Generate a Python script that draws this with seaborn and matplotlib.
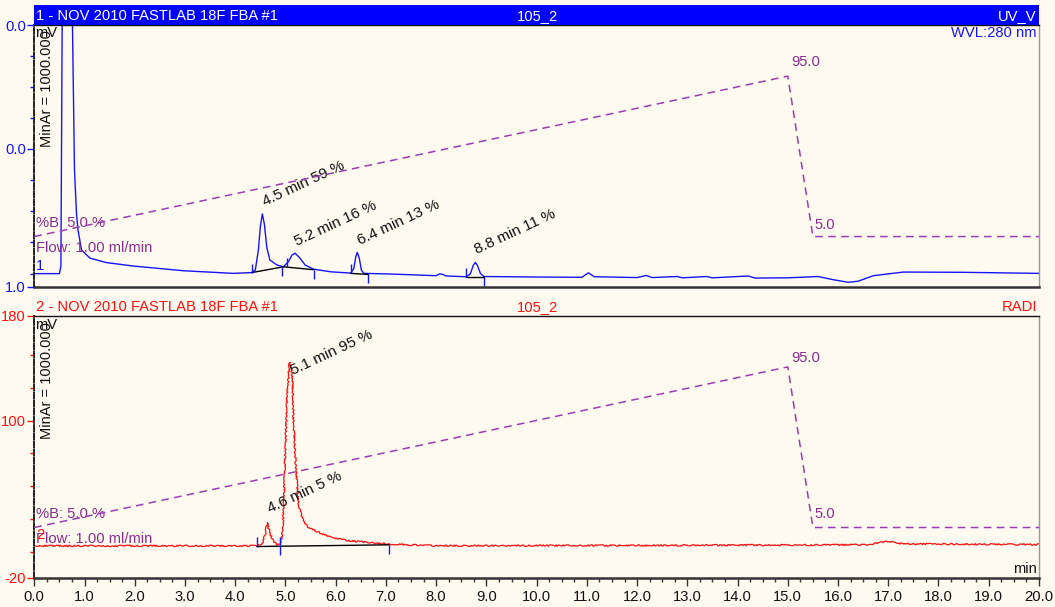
import matplotlib
matplotlib.use("Agg")
import pandas as pd
import matplotlib.pyplot as plt
from matplotlib.ticker import FixedLocator
import seaborn as sns

# UV channel (top): time [min] vs signal in display units (0 = bottom edge, 100 = top edge)
uv_time = [0.0, 0.50, 0.53, 0.56, 0.60, 0.72, 0.76, 0.80, 0.84, 0.87, 0.94, 1.11, 1.44,
           1.97, 2.97, 3.96, 4.33, 4.40, 4.46, 4.50, 4.54, 4.58, 4.63, 4.69, 4.83, 4.96,
           5.06, 5.13, 5.19, 5.29, 5.39, 5.56, 5.90, 6.30, 6.36, 6.40, 6.43, 6.47, 6.51,
           6.56, 7.00, 7.60, 8.00, 8.07, 8.13, 8.20, 8.60, 8.68, 8.74, 8.78, 8.82, 8.88,
           8.95, 9.50, 10.0, 10.9, 11.03, 11.15, 12.0, 12.18, 12.3, 12.8, 12.9, 13.38,
           13.5, 14.21, 14.35, 15.0, 15.6, 15.9, 16.2, 16.4, 16.7, 17.3, 18.5, 20.0]
uv_signal = [5.1, 5.1, 8.0, 120, 140, 140, 100, 45, 28, 21.8, 14.1, 11.0, 9.3,
             8.0, 6.2, 5.2, 5.5, 6.5, 14.0, 23.0, 27.9, 24.0, 15.0, 10.3, 8.4, 7.7,
             9.7, 12.2, 12.9, 11.0, 8.4, 6.8, 5.8, 5.3, 7.0, 11.5, 13.2, 11.0, 6.5,
             5.2, 5.0, 4.6, 4.3, 5.0, 4.8, 4.2, 3.9, 5.0, 8.3, 9.4, 8.3, 5.2,
             4.0, 3.9, 3.8, 3.7, 5.4, 3.9, 3.6, 4.4, 3.6, 4.0, 3.5, 4.0,
             3.5, 4.2, 3.4, 3.5, 4.0, 2.8, 1.8, 2.2, 4.3, 5.7, 5.6, 5.2]

# radio channel (bottom): time [min] vs mV
radi_time = [0.0, 4.40, 4.53, 4.60, 4.64, 4.68, 4.75, 4.83, 4.90, 4.95, 4.99, 5.03,
             5.08, 5.11, 5.14, 5.16, 5.21, 5.26, 5.33, 5.43, 5.63, 5.89, 6.22, 6.69,
             7.09, 7.50, 8.00, 12.0, 16.6, 16.98, 17.3, 20.0]
radi_mv = [4.5, 4.5, 5.3, 14.2, 22.3, 15.4, 8.6, 5.3, 6.0, 16.7, 67.5, 118,
           144.5, 142, 131, 100.5, 62.4, 37.0, 25.6, 19.3, 15.4, 11.2, 8.6, 7.0,
           5.8, 5.2, 4.6, 4.8, 5.3, 8.0, 6.0, 5.5]

# gradient program (%B)
grad_time = [0.0, 15.0, 15.5, 20.0]
grad_b = [5.0, 95.0, 5.0, 5.0]

# integration baselines and delimiters
uv_base_time = [[4.33, 4.96, 5.56], [6.30, 6.65], [8.59, 8.96]]
uv_base_val = [[5.5, 7.7, 6.6], [5.2, 4.8], [3.8, 3.8]]
uv_start_ticks = [(4.33, 5.5), (5.03, 7.8), (6.30, 5.2), (8.59, 3.8)]
uv_end_ticks = [(4.93, 7.7), (5.56, 6.6), (6.65, 4.8), (8.96, 3.8)]
radi_base_time = [4.43, 7.07]
radi_base_val = [4.0, 5.3]
radi_start_ticks = [(4.43, 4.0), (4.90, 4.3)]
radi_end_ticks = [(4.90, 4.3), (7.07, 5.3)]

# peak labels
uv_peaks = [(4.60, 30.9, "4.5 min 59 %"), (5.23, 15.6, "5.2 min 16 %"),
            (6.49, 16.0, "6.4 min 13 %"), (8.81, 12.6, "8.8 min 11 %")]
radi_peaks = [(5.16, 134.8, "5.1 min 95 %"), (4.70, 29.4, "4.6 min 5 %")]

x_ticks = [float(i) for i in range(21)]

BG = "#FFFAF0"
BLUE = "#1414FF"
RED = "#FF1010"
PURPLE_LINE = "#9B3DB5"
PURPLE_TXT = "#8A2D8F"
FS = 10.6

sns.set_theme(style="ticks")
plt.rcParams["font.family"] = ["Liberation Sans", "DejaVu Sans"]

fig = plt.figure(figsize=(10.55, 6.07), dpi=100, facecolor=BG)
L, W = 0.0325, 0.9523
ax1 = fig.add_axes([L, 0.5272, W, 0.4316], facecolor=BG)
ax2 = fig.add_axes([L, 0.0478, W, 0.4321], facecolor=BG)
hdr = fig.add_axes([L, 0.9588, W, 0.033], facecolor="#0000FF")
hdr.set_xticks([])
hdr.set_yticks([])
for s in hdr.spines.values():
    s.set_visible(False)
hdr.text(0.002, 0.45, "1 - NOV 2010 FASTLAB 18F FBA #1", color="white", fontsize=FS,
         va="center", ha="left", transform=hdr.transAxes)
hdr.text(0.501, 0.45, "105_2", color="white", fontsize=FS, va="center", ha="center",
         transform=hdr.transAxes)
hdr.text(0.998, 0.45, "UV_V", color="white", fontsize=FS, va="center", ha="right",
         transform=hdr.transAxes)

fig.text(L + 0.002, 0.4942, "2 - NOV 2010 FASTLAB 18F FBA #1", color=RED, fontsize=FS,
         va="center", ha="left")
fig.text(L + 0.501 * W, 0.4942, "105_2", color=RED, fontsize=FS, va="center", ha="center")
fig.text(L + 0.998 * W, 0.4942, "RADI", color=RED, fontsize=FS, va="center", ha="right")

uv = pd.DataFrame({"time": uv_time, "signal": uv_signal})
radi = pd.DataFrame({"time": radi_time, "mv": radi_mv})
grad = pd.DataFrame({"time": grad_time, "b": grad_b})

sns.lineplot(data=uv, x="time", y="signal", ax=ax1, color=BLUE, linewidth=1.0,
             estimator=None, sort=False)
sns.lineplot(data=radi, x="time", y="mv", ax=ax2, color=RED, linewidth=0.9,
             estimator=None, sort=False)
ax2.lines[-1].set_sketch_params(scale=0.7, length=2.5, randomness=12)

ax1.set_xlim(0, 20)
ax1.set_ylim(0, 100)
ax2.set_xlim(0, 20)
ax2.set_ylim(-20, 180)

# integration marks
for ts, vs in zip(uv_base_time, uv_base_val):
    ax1.plot(ts, vs, color="black", linewidth=1.0)
for t, v in uv_start_ticks:
    ax1.vlines(t, v, v + 3.4, color=BLUE, linewidth=1.0)
for t, v in uv_end_ticks:
    ax1.vlines(t, v - 3.4, v, color=BLUE, linewidth=1.0)
ax2.plot(radi_base_time, radi_base_val, color="black", linewidth=1.0)
for t, v in radi_start_ticks:
    ax2.vlines(t, v, v + 6.9, color=BLUE, linewidth=1.0)
for t, v in radi_end_ticks:
    ax2.vlines(t, v - 6.9, v, color=BLUE, linewidth=1.0)

for t, v, lbl in uv_peaks:
    ax1.text(t, v, lbl, rotation=25, rotation_mode="anchor", ha="left", va="baseline",
             fontsize=11, color="#111111")
for t, v, lbl in radi_peaks:
    ax2.text(t, v, lbl, rotation=25, rotation_mode="anchor", ha="left", va="baseline",
             fontsize=11, color="#111111")

# gradient overlay
for ax, off95, off5 in [(ax1, (3, 14), (2, 12)), (ax2, (3, 9), (2, 13))]:
    tw = ax.twinx()
    sns.lineplot(data=grad, x="time", y="b", ax=tw, color=PURPLE_LINE, linewidth=1.1,
                 linestyle=(0, (5, 3.5)), estimator=None, sort=False)
    tw.set_ylim(-23.3, 123.7)
    tw.set_xlim(0, 20)
    tw.set_axis_off()
    tw.annotate("95.0", xy=(15.0, 95), xytext=off95, textcoords="offset pixels",
                ha="left", va="center", color=PURPLE_TXT, fontsize=FS)
    tw.annotate("5.0", xy=(15.5, 5), xytext=off5, textcoords="offset pixels",
                ha="left", va="center", color=PURPLE_TXT, fontsize=FS)

# side texts
for ax, c, num, yb, yf, yn, ymv in [(ax1, BLUE, "1", 0.245, 0.148, 0.080, 0.969),
                                    (ax2, RED, "2", 0.244, 0.1475, 0.164, 0.965)]:
    ax.text(0.002, yb, "%B: 5.0 %", color=PURPLE_TXT, fontsize=FS, va="center",
            transform=ax.transAxes)
    ax.text(0.002, yf, "Flow: 1.00 ml/min", color=PURPLE_TXT, fontsize=FS, va="center",
            transform=ax.transAxes)
    ax.text(0.002, yn, num, color=c, fontsize=FS, va="center", transform=ax.transAxes)
    ax.text(0.001, ymv, "mV", color="#111111", fontsize=FS, va="center",
            transform=ax.transAxes)
    ax.text(0.0123, ymv + 0.01, "MinAr = 1000.000", rotation=90, color="#111111",
            fontsize=10.5, ha="center", va="top", transform=ax.transAxes)

ax1.text(0.998, 0.968, "WVL:280 nm", color=BLUE, fontsize=FS, ha="right", va="center",
         transform=ax1.transAxes)
ax2.text(0.998, 0.034, "min", color="#111111", fontsize=FS, ha="right", va="center",
         transform=ax2.transAxes)

# axes styling
ax1.set_yticks([0, 52.7, 100], ["1.0", "0.0", "0.0"])
ax1.yaxis.set_minor_locator(FixedLocator([5.0, 17.3, 29.1, 40.9, 64.5, 76.3, 88.1]))
ax2.set_yticks([-20, 100, 180], ["-20", "100", "180"])
ax2.yaxis.set_minor_locator(FixedLocator([0, 25, 50, 75, 125, 150]))
ax1.set_xticks([])
ax2.set_xticks(x_ticks, [f"{t:.1f}" for t in x_ticks])
ax2.xaxis.set_minor_locator(FixedLocator([i * 0.25 for i in range(81) if i % 4]))

for ax, c in [(ax1, BLUE), (ax2, RED)]:
    ax.set_xlabel("")
    ax.set_ylabel("")
    ax.tick_params(axis="y", which="major", length=5, width=1, color=c, labelcolor=c,
                   labelsize=FS, pad=1, direction="out")
    ax.tick_params(axis="y", which="minor", length=3, width=1, color=c, direction="out")
    ax.spines["left"].set_color("#222222")
    ax.spines["left"].set_linewidth(1.4)
    ax.spines["left"].set_linestyle((0, (3, 1.2)))
    ax.spines["right"].set_color("#9A9A9A")
    ax.spines["right"].set_linewidth(1.0)
    ax.spines["top"].set_color("#111111")
    ax.spines["top"].set_linewidth(1.0)
    ax.spines["bottom"].set_color("#333333")
    ax.spines["bottom"].set_linewidth(1.8)

ax2.tick_params(axis="x", which="major", length=6, width=1, color="#333333",
                labelcolor="#111111", labelsize=FS, pad=3)
ax2.tick_params(axis="x", which="minor", length=3, width=1, color="#333333")

fig.savefig("out.png", dpi=100, facecolor=BG)
